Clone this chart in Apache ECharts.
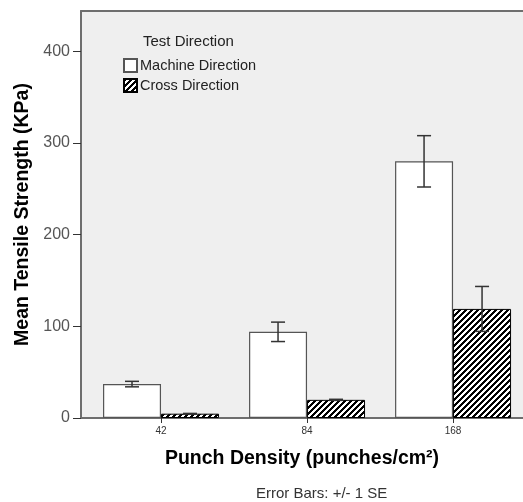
<!DOCTYPE html>
<html><head><meta charset="utf-8">
<script src="https://cdn.jsdelivr.net/npm/echarts@6/dist/echarts.min.js"></script>
<style>html,body{margin:0;padding:0;background:#fff}#c{width:523px;height:502px}</style>
</head><body><div id="c"></div>
<script>
const categories = ['42', '84', '168'];
const seriesNames = ['Machine Direction', 'Cross Direction'];
const machineMean = [37, 94, 280];
const machineSE = [3, 10.6, 28];
const crossMean = [4.7, 19.8, 119];
const crossSE = [0.3, 0.6, 24.5];
const yTicks = [0, 100, 200, 300, 400];

const FONT = '"Liberation Sans", Arial, sans-serif';

// hatch pattern
function hatch() {
  const s = 6;
  const cv = document.createElement('canvas');
  cv.width = s; cv.height = s;
  const ctx = cv.getContext('2d');
  const img = ctx.createImageData(s, s);
  for (let y = 0; y < s; y++) for (let x = 0; x < s; x++) {
    const v = ((x + y) % s) < 3 ? 0 : 255;
    const i = (y * s + x) * 4;
    img.data[i] = v; img.data[i+1] = v; img.data[i+2] = v; img.data[i+3] = 255;
  }
  ctx.putImageData(img, 0, 0);
  return cv;
}
const pattern = { image: hatch(), repeat: 'repeat' };

const xIdx = categories.map((c, i) => i);
const machineData = xIdx.map(i => [i, machineMean[i]]);
const crossData = xIdx.map(i => [i, crossMean[i]]);
const errData = [];
xIdx.forEach(i => {
  errData.push([i, machineMean[i] - machineSE[i], machineMean[i] + machineSE[i], -29]);
  errData.push([i, crossMean[i] - crossSE[i], crossMean[i] + crossSE[i], 29]);
});

const chart = echarts.init(document.getElementById('c'), null, { renderer: 'canvas' });
const axisColor = '#6e6e6e';
chart.setOption({
  animation: false,
  backgroundColor: '#ffffff',
  textStyle: { fontFamily: FONT },
  grid: { left: 81, right: 0, top: 11, bottom: 84, show: true, backgroundColor: '#efefef', borderWidth: 0 },
  xAxis: [{
    type: 'value', min: -0.548, max: 2.479,
    splitLine: { show: false },
    axisLine: { show: true, onZero: false, lineStyle: { color: axisColor, width: 2 } },
    axisTick: { show: true, customValues: xIdx, length: 5, lineStyle: { color: '#333' } },
    axisLabel: { customValues: xIdx, formatter: v => categories[Math.round(v)], fontSize: 10, color: '#333', margin: 8, fontFamily: FONT },
    name: 'Punch Density (punches/cm²)', nameLocation: 'middle', nameGap: 31,
    nameTextStyle: { fontSize: 19.5, fontWeight: 'bold', color: '#000', fontFamily: FONT }
  }, {
    type: 'value', min: -0.548, max: 2.479, position: 'top',
    splitLine: { show: false },
    axisLine: { show: true, onZero: false, lineStyle: { color: axisColor, width: 2 } },
    axisTick: { show: false }, axisLabel: { show: false }
  }],
  yAxis: {
    type: 'value', min: 0, max: 444, interval: 100,
    splitLine: { show: false },
    axisLine: { show: true, onZero: false, lineStyle: { color: axisColor, width: 2 } },
    axisTick: { show: true, customValues: yTicks, length: 8, lineStyle: { color: '#333' } },
    axisLabel: { customValues: yTicks, fontSize: 16, color: '#555', margin: 11, fontFamily: FONT },
    name: 'Mean Tensile Strength (KPa)', nameLocation: 'middle', nameGap: 47,
    nameTextStyle: { fontSize: 19.5, fontWeight: 'bold', color: '#000', fontFamily: FONT }
  },
  legend: {
    orient: 'vertical', left: 123, top: 58, padding: 0, itemWidth: 13, itemHeight: 13, itemGap: 5,
    icon: 'rect', data: seriesNames,
    textStyle: { fontSize: 14.5, color: '#222', fontFamily: FONT, padding: [0, 0, 0, -2] }
  },
  graphic: [
    { type: 'text', left: 143, top: 34, style: { text: 'Test Direction', font: '15px ' + FONT, fill: '#222' } },
    { type: 'text', left: 256, top: 486, style: { text: 'Error Bars: +/- 1 SE', font: '15px ' + FONT, fill: '#333' } }
  ],
  series: [{
    name: seriesNames[0], type: 'bar', data: machineData, barWidth: 58, barGap: '0%',
    itemStyle: { color: '#ffffff', borderColor: '#555', borderWidth: 1.2 }
  }, {
    name: seriesNames[1], type: 'bar', data: crossData, barWidth: 58, barGap: '0%',
    itemStyle: { color: pattern, borderColor: '#000', borderWidth: 1 }
  }, {
    type: 'custom', data: errData, z: 10,
    renderItem: (params, api) => {
      const x = api.value(0), lo = api.value(1), hi = api.value(2), off = api.value(3);
      const pHi = api.coord([x, hi]), pLo = api.coord([x, lo]);
      const cx = pHi[0] + off, hw = 7;
      const st = { stroke: '#333', lineWidth: 1.5 };
      return { type: 'group', children: [
        { type: 'line', shape: { x1: cx, y1: pHi[1], x2: cx, y2: pLo[1] }, style: st },
        { type: 'line', shape: { x1: cx - hw, y1: pHi[1], x2: cx + hw, y2: pHi[1] }, style: st },
        { type: 'line', shape: { x1: cx - hw, y1: pLo[1], x2: cx + hw, y2: pLo[1] }, style: st }
      ]};
    }
  }]
});
</script></body></html>
